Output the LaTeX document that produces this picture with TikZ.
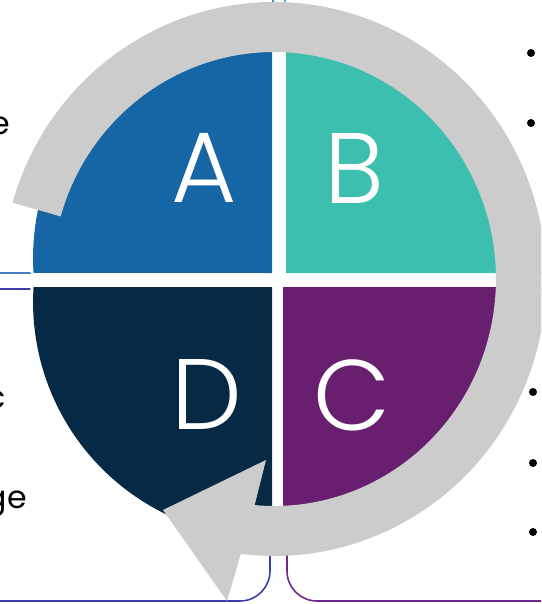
\documentclass[tikz,border=0pt]{standalone}
\usepackage{fontspec}
\setmainfont{Poppins}
\newfontfamily\letterfont{Poppins Light}
\usetikzlibrary{calc}
\definecolor{qA}{HTML}{1665A5}
\definecolor{qB}{HTML}{3CBFAE}
\definecolor{qC}{HTML}{681F70}
\definecolor{qD}{HTML}{062A46}
\definecolor{ringgray}{HTML}{CCCCCC}
\definecolor{lineTL}{HTML}{4480BE}
\definecolor{lineTR}{HTML}{3CBFAE}
\definecolor{lineBL}{HTML}{3A3EAA}
\definecolor{lineBR}{HTML}{6E288C}
\begin{document}
\begin{tikzpicture}[x=0.02cm,y=0.02cm,
  quad/.style={fill=#1, preaction={draw=white, line width=0.12cm}},
  letter/.style={text=white, font=\letterfont\fontsize{57}{60}\selectfont, inner sep=0pt},
  boxline/.style={line width=0.9pt, rounded corners=0.6cm},
  bulletdot/.style={circle, fill=black, inner sep=0pt, minimum size=0.16cm},
  frag/.style={font=\fontsize{18}{20}\selectfont, inner sep=0pt, anchor=base east}]
\useasboundingbox (0,0) rectangle (541,-604);
\clip (0,0) rectangle (541,-604);
\fill[white] (0,0) rectangle (541,-604);
% text boxes (mostly hidden)
\draw[boxline, draw=lineTL] (-40,40) rectangle (273,-273);
\draw[boxline, draw=lineTR] (285,40) rectangle (600,-273);
\draw[boxline, draw=lineBL] (-40,-289) rectangle (270,-601);
\draw[boxline, draw=lineBR] (287,-289) rectangle (600,-601);
% quadrants
\path[quad=qA] (272,-273) -- ([shift={(269,-258)}]183.64:4.72cm) arc[start angle=183.64, end angle=89.27, radius=4.72cm] -- cycle;
\path[quad=qB] (286,-273) -- (521,-273) arc[start angle=0, end angle=90, radius=4.7cm] -- cycle;
\path[quad=qC] (283,-287) -- (518,-287) arc[start angle=0, end angle=-90, radius=4.7cm] -- cycle;
\path[quad=qD] (272,-287) -- ([shift={(269,-302)}]176.36:4.72cm) arc[start angle=176.36, end angle=270.73, radius=4.72cm] -- cycle;
% circular arrow
\fill[ringgray] ([shift={(274,-279)}]164:5.44cm and 5.54cm)
  arc[start angle=164, end angle=-97, x radius=5.44cm, y radius=5.54cm]
  -- (227,-601) -- (163,-510) -- (266,-460)
  -- ([shift={(274,-279)}]-95:4.44cm and 4.54cm)
  arc[start angle=-95, end angle=164, x radius=4.44cm, y radius=4.54cm] -- cycle;
% letters
\node[letter] (lA) at (204,-168) {A};
\node[letter] (lB) at (354,-168) {B};
\node[letter] (lC) at (352,-395) {C};
\node[letter] (lD) at (207,-394) {D};
% text fragments
\node[frag] (t1) at (10,-135) {e};
\node[frag] (t2) at (6,-408) {c};
\node[frag] (t3) at (27,-508) {ge};
% bullets
\node[bulletdot] (b1) at (531,-53) {};
\node[bulletdot] (b2) at (531,-123) {};
\node[bulletdot] (b3) at (533,-392) {};
\node[bulletdot] (b4) at (533,-463) {};
\node[bulletdot] (b5) at (533,-532) {};
\end{tikzpicture}
\end{document}
